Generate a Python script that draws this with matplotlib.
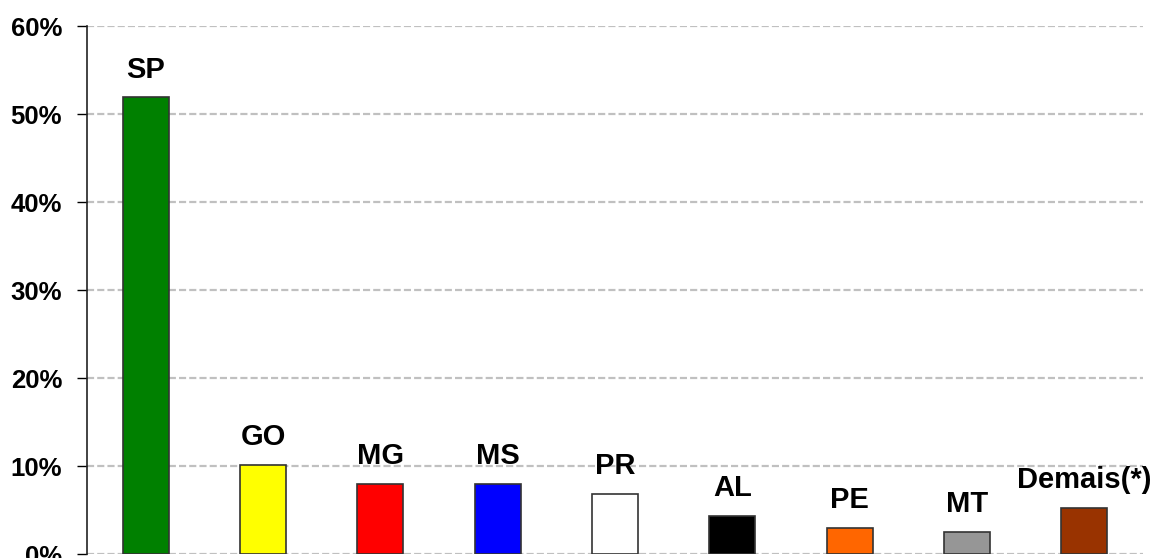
import matplotlib
matplotlib.use("Agg")
import matplotlib.pyplot as plt
from matplotlib.ticker import FuncFormatter

states = ["SP", "GO", "MG", "MS", "PR", "AL", "PE", "MT", "Demais(*)"]
shares = [51.9, 10.1, 8.0, 8.0, 6.8, 4.3, 3.0, 2.5, 5.2]
colors = ["#008000", "#FFFF00", "#FF0000", "#0000FF", "#FFFFFF",
          "#000000", "#FF6600", "#969696", "#993300"]
yticks = [0, 10, 20, 30, 40, 50, 60]

plt.rcParams["font.family"] = ["Liberation Sans", "DejaVu Sans"]

fig = plt.figure(figsize=(11.51, 5.58), dpi=100)
ax = fig.add_axes([0.0756, 0.007, 0.9174, 0.946])

x = list(range(len(states)))
ax.bar(x, shares, width=0.39, color=colors, edgecolor="#333333",
       linewidth=1.2, zorder=3)

for xi, v, name in zip(x, shares, states):
    ax.annotate(name, (xi, v), xytext=(0, 10), textcoords="offset points",
                ha="center", va="bottom", fontsize=21, fontweight="bold")

ax.set_xlim(-0.5, len(states) - 0.5)
ax.set_ylim(0, 60)
ax.set_yticks(yticks)
ax.yaxis.set_major_formatter(FuncFormatter(lambda v, p: f"{v:.0f}%"))
ax.tick_params(axis="y", labelsize=18.5, length=7, width=1, direction="out", pad=11)
for lab in ax.get_yticklabels():
    lab.set_fontweight("bold")
ax.set_xticks([])

ax.grid(axis="y", color="#C0C0C0", linestyle=(0, (3.2, 1.4)), linewidth=1.6, zorder=0)
ax.set_axisbelow(True)
for side in ("top", "right", "bottom"):
    ax.spines[side].set_visible(False)
ax.spines["left"].set_color("#222222")
ax.spines["left"].set_linewidth(1.2)

fig.savefig("out.png", dpi=100)
